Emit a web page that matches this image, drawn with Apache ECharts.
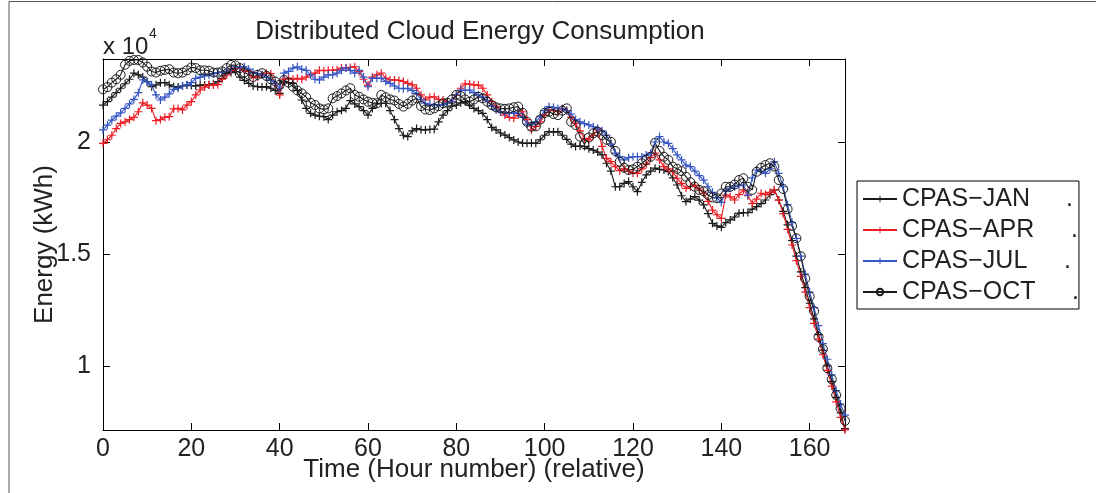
<!DOCTYPE html>
<html>
<head>
<meta charset="utf-8">
<script src="https://cdn.jsdelivr.net/npm/echarts@6/dist/echarts.min.js"></script>
<style>
html, body { margin: 0; padding: 0; background: #fff; }
#chart { width: 1096px; height: 493px; }
</style>
</head>
<body>
<div id="chart"></div>
<script>
// hourly energy, units of 10^4 kWh, hour 0 .. 168
const seriesNames = ["CPAS−JAN", "CPAS−APR", "CPAS−JUL", "CPAS−OCT"];

const janEnergy = [
  2.165, 2.18, 2.20, 2.22, 2.24, 2.26, 2.28, 2.307, 2.30, 2.29,
  2.27, 2.247, 2.255, 2.265, 2.265, 2.255, 2.247, 2.245, 2.25, 2.254,
  2.252, 2.25, 2.254, 2.254, 2.256, 2.26, 2.27, 2.284, 2.305, 2.31,
  2.314, 2.29, 2.275, 2.262, 2.25, 2.247, 2.245, 2.247, 2.24, 2.23,
  2.217, 2.27, 2.265, 2.262, 2.23, 2.1875, 2.15, 2.128, 2.12, 2.115,
  2.113, 2.10, 2.12, 2.135, 2.14, 2.15, 2.185, 2.17, 2.158, 2.14,
  2.12, 2.15, 2.17, 2.172, 2.173, 2.14, 2.10, 2.06, 2.03, 2.024,
  2.05, 2.06, 2.055, 2.054, 2.056, 2.057, 2.09, 2.12, 2.14, 2.16,
  2.165, 2.175, 2.18, 2.165, 2.15, 2.14, 2.128, 2.10, 2.065, 2.054,
  2.04, 2.031, 2.02, 2.009, 2.0, 1.995, 1.994, 1.995, 1.994, 2.01,
  2.03, 2.046, 2.045, 2.046, 2.03, 2.012, 1.99, 1.98, 1.982, 1.98,
  1.97, 1.964, 1.955, 1.942, 1.905, 1.87, 1.80, 1.80, 1.815, 1.823,
  1.80, 1.778, 1.82, 1.853, 1.87, 1.883, 1.878, 1.875, 1.868, 1.84,
  1.808, 1.76, 1.734, 1.745, 1.756, 1.74, 1.719, 1.68, 1.637, 1.625,
  1.619, 1.64, 1.652, 1.665, 1.682, 1.684, 1.685, 1.70, 1.711, 1.725,
  1.741, 1.765, 1.786, 1.741, 1.69, 1.63, 1.56, 1.49, 1.42, 1.35,
  1.28, 1.21, 1.14, 1.07, 1.00, 0.93, 0.86, 0.79, 0.72
];

const aprEnergy = [
  1.994, 2.01, 2.03, 2.06, 2.083, 2.09, 2.10, 2.11, 2.135, 2.175,
  2.165, 2.15, 2.095, 2.10, 2.11, 2.113, 2.148, 2.15, 2.143, 2.165,
  2.18, 2.21, 2.232, 2.245, 2.254, 2.254, 2.256, 2.28, 2.30, 2.32,
  2.33, 2.33, 2.32, 2.314, 2.29, 2.29, 2.30, 2.307, 2.305, 2.26,
  2.21, 2.28, 2.285, 2.28, 2.284, 2.28, 2.29, 2.30, 2.307, 2.32,
  2.318, 2.32, 2.32, 2.322, 2.33, 2.33, 2.333, 2.336, 2.314, 2.28,
  2.254, 2.29, 2.30, 2.307, 2.285, 2.277, 2.277, 2.275, 2.27, 2.262,
  2.255, 2.24, 2.21, 2.1875, 2.20, 2.202, 2.19, 2.1875, 2.18, 2.18,
  2.21, 2.24, 2.26, 2.258, 2.255, 2.254, 2.24, 2.21, 2.18, 2.158,
  2.135, 2.12, 2.11, 2.106, 2.12, 2.135, 2.10, 2.054, 2.07, 2.09,
  2.12, 2.143, 2.14, 2.135, 2.15, 2.14, 2.11, 2.083, 2.05, 2.016,
  2.009, 2.03, 2.054, 1.98, 1.927, 1.912, 1.89, 1.872, 1.88, 1.87,
  1.862, 1.86, 1.88, 1.90, 1.93, 1.95, 1.92, 1.89, 1.88, 1.867,
  1.838, 1.815, 1.793, 1.80, 1.808, 1.79, 1.771, 1.735, 1.696, 1.675,
  1.659, 1.763, 1.755, 1.741, 1.765, 1.786, 1.76, 1.725, 1.745, 1.771,
  1.765, 1.775, 1.786, 1.74, 1.68, 1.61, 1.54, 1.47, 1.40, 1.33,
  1.26, 1.19, 1.12, 1.05, 0.98, 0.91, 0.84, 0.77, 0.715
];

const julEnergy = [
  2.054, 2.075, 2.098, 2.115, 2.13, 2.15, 2.17, 2.19, 2.22, 2.277,
  2.268, 2.255, 2.21, 2.1875, 2.20, 2.215, 2.235, 2.24, 2.25, 2.255,
  2.265, 2.284, 2.29, 2.295, 2.30, 2.305, 2.31, 2.312, 2.315, 2.325,
  2.336, 2.334, 2.336, 2.325, 2.31, 2.305, 2.30, 2.29, 2.275, 2.26,
  2.24, 2.307, 2.315, 2.33, 2.336, 2.325, 2.32, 2.30, 2.28, 2.277,
  2.29, 2.30, 2.30, 2.307, 2.32, 2.33, 2.32, 2.307, 2.32, 2.29,
  2.247, 2.284, 2.285, 2.284, 2.27, 2.262, 2.25, 2.24, 2.238, 2.24,
  2.23, 2.217, 2.19, 2.173, 2.168, 2.165, 2.165, 2.167, 2.175, 2.18,
  2.21, 2.232, 2.23, 2.232, 2.22, 2.21, 2.20, 2.185, 2.16, 2.143,
  2.135, 2.13, 2.128, 2.13, 2.128, 2.11, 2.08, 2.076, 2.09, 2.113,
  2.14, 2.158, 2.155, 2.15, 2.148, 2.14, 2.125, 2.10, 2.09, 2.082,
  2.076, 2.068, 2.061, 2.05, 2.031, 1.99, 1.95, 1.935, 1.92, 1.93,
  1.934, 1.935, 1.934, 1.942, 1.95, 2.00, 2.024, 2.00, 1.994, 1.97,
  1.942, 1.92, 1.897, 1.89, 1.87, 1.85, 1.83, 1.80, 1.775, 1.75,
  1.73, 1.78, 1.793, 1.80, 1.805, 1.808, 1.763, 1.84, 1.875, 1.87,
  1.86, 1.88, 1.912, 1.86, 1.80, 1.72, 1.64, 1.57, 1.49, 1.41,
  1.33, 1.26, 1.18, 1.10, 1.03, 0.96, 0.89, 0.83, 0.78
];

const octEnergy = [
  2.235, 2.245, 2.265, 2.28, 2.30, 2.345, 2.362, 2.366, 2.366, 2.355,
  2.336, 2.315, 2.31, 2.318, 2.322, 2.325, 2.31, 2.307, 2.31, 2.32,
  2.333, 2.33, 2.32, 2.32, 2.318, 2.31, 2.31, 2.315, 2.33, 2.344,
  2.342, 2.33, 2.31, 2.30, 2.29, 2.30, 2.307, 2.295, 2.28, 2.27,
  2.255, 2.277, 2.265, 2.247, 2.23, 2.217, 2.20, 2.175, 2.165, 2.15,
  2.145, 2.15, 2.195, 2.205, 2.217, 2.23, 2.24, 2.21, 2.202, 2.19,
  2.18, 2.175, 2.173, 2.21, 2.20, 2.19, 2.185, 2.17, 2.158, 2.17,
  2.185, 2.195, 2.16, 2.145, 2.143, 2.15, 2.16, 2.173, 2.175, 2.19,
  2.21, 2.205, 2.19, 2.18, 2.19, 2.202, 2.195, 2.18, 2.165, 2.155,
  2.15, 2.148, 2.15, 2.155, 2.158, 2.13, 2.09, 2.068, 2.07, 2.10,
  2.13, 2.135, 2.125, 2.12, 2.14, 2.15, 2.09, 2.076, 2.024, 1.99,
  2.02, 2.039, 2.046, 2.03, 2.01, 2.001, 1.96, 1.912, 1.885, 1.875,
  1.878, 1.89, 1.905, 1.92, 1.934, 1.997, 1.96, 1.934, 1.92, 1.89,
  1.88, 1.87, 1.845, 1.82, 1.80, 1.786, 1.78, 1.763, 1.752, 1.749,
  1.77, 1.80, 1.80, 1.81, 1.83, 1.838, 1.80, 1.786, 1.867, 1.885,
  1.897, 1.905, 1.89, 1.83, 1.79, 1.70, 1.625, 1.57, 1.49, 1.39,
  1.31, 1.245, 1.13, 1.075, 0.99, 0.94, 0.87, 0.81, 0.755
];

const xTicks = [0, 20, 40, 60, 80, 100, 120, 140, 160];
const yTicks = [1, 1.5, 2];

const font = "'Liberation Sans', Arial, Helvetica, sans-serif";
const plusMark = "path://M3.4,0h1.2v8h-1.2z M0,3.4h8v1.2h-8z";

const chart = echarts.init(document.getElementById("chart"));

// pairs [hour, value]
const toPoints = arr => arr.map((v, h) => [h, v]);

function plusSeries(name, data, color) {
  return {
    name: name,
    type: "line",
    data: toPoints(data),
    symbol: plusMark,
    symbolSize: 8,
    lineStyle: { color: color, width: 1.1 },
    itemStyle: { color: color, borderWidth: 0 },
    emphasis: { disabled: true }
  };
}

// legend dots sit at slightly different places on each row
const dotKey = { "CPAS−JAN": "j", "CPAS−APR": "a", "CPAS−JUL": "u", "CPAS−OCT": "o" };
const richName = w => ({ width: w, fontSize: 25, fontFamily: font, color: "#222" });

const boxAxis = {
  axisLine: { show: true, onZero: false, lineStyle: { color: "#000", width: 1 } },
  axisTick: { show: true, inside: true, length: 7, lineStyle: { color: "#000" } },
  splitLine: { show: false }
};

const option = {
  animation: false,
  backgroundColor: "#fff",
  title: {
    text: "Distributed Cloud Energy Consumption",
    left: 475,
    top: 14,
    textAlign: "center",
    textStyle: { fontSize: 26, fontWeight: "normal", color: "#222", fontFamily: font }
  },
  grid: { left: 103, right: 251, top: 59, bottom: 63, containLabel: false, outerBoundsMode: "none" },
  legend: {
    orient: "vertical",
    left: 857,
    top: 181,
    padding: [5, 0, 4, 5],
    itemGap: 5,
    itemWidth: 34,
    itemHeight: 8,
    borderColor: "#000",
    borderWidth: 1,
    backgroundColor: "#fff",
    selectedMode: false,
    data: seriesNames,
    formatter: name => "{" + dotKey[name] + "|" + name + "}{d|.}",
    textStyle: {
      fontSize: 25,
      fontFamily: font,
      color: "#222",
      lineHeight: 26,
      rich: {
        j: richName(164),
        a: richName(169),
        u: richName(162),
        o: richName(170),
        d: { fontSize: 25, fontFamily: font, color: "#222" }
      }
    }
  },
  xAxis: [
    Object.assign({}, boxAxis, {
      type: "value",
      min: 0,
      max: 168,
      position: "bottom",
      axisTick: Object.assign({}, boxAxis.axisTick, { customValues: xTicks }),
      axisLabel: { customValues: xTicks, color: "#222", fontSize: 25, fontFamily: font, margin: 7 },
      name: "Time (Hour number) (relative)",
      nameLocation: "middle",
      nameGap: 40,
      nameMoveOverlap: false,
      nameTextStyle: { fontSize: 26, color: "#222", fontFamily: font, verticalAlign: "middle" }
    }),
    Object.assign({}, boxAxis, {
      type: "value",
      min: 0,
      max: 168,
      position: "top",
      axisTick: Object.assign({}, boxAxis.axisTick, { customValues: xTicks }),
      axisLabel: { show: false }
    })
  ],
  yAxis: [
    Object.assign({}, boxAxis, {
      type: "value",
      min: 0.714,
      max: 2.3705,
      position: "left",
      axisTick: Object.assign({}, boxAxis.axisTick, { customValues: yTicks }),
      axisLabel: { customValues: yTicks, color: "#222", fontSize: 25, fontFamily: font, margin: 12 },
      name: "Energy (kWh)",
      nameLocation: "middle",
      nameGap: 58,
      nameRotate: 90,
      nameMoveOverlap: false,
      nameTextStyle: { fontSize: 26, color: "#222", fontFamily: font, verticalAlign: "middle" }
    }),
    Object.assign({}, boxAxis, {
      type: "value",
      min: 0.714,
      max: 2.3705,
      position: "right",
      axisTick: Object.assign({}, boxAxis.axisTick, { customValues: yTicks }),
      axisLabel: { show: false }
    })
  ],
  graphic: [
    {
      type: "polyline",
      silent: true,
      shape: { points: [[9, 493], [9, 1.5], [1096, 1.5]] },
      style: { stroke: "#555", lineWidth: 1, fill: null }
    },
    {
      type: "text",
      silent: true,
      style: { x: 103, y: 47.5, text: "x 10", font: "24px " + font, fill: "#222",
               textAlign: "left", textVerticalAlign: "middle", align: "left", verticalAlign: "middle" }
    },
    {
      type: "text",
      silent: true,
      style: { x: 149, y: 34.5, text: "4", font: "14px " + font, fill: "#222",
               textAlign: "left", textVerticalAlign: "middle", align: "left", verticalAlign: "middle" }
    }
  ],
  series: [
    plusSeries(seriesNames[0], janEnergy, "#1a1a1a"),
    plusSeries(seriesNames[1], aprEnergy, "#ee1c24"),
    plusSeries(seriesNames[2], julEnergy, "#3656c4"),
    {
      name: seriesNames[3],
      type: "line",
      data: toPoints(octEnergy),
      symbol: "circle",
      symbolSize: 9,
      lineStyle: { color: "#1a1a1a", width: 1.1 },
      itemStyle: { color: "rgba(255,255,255,0)", borderColor: "#1a1a1a", borderWidth: 1 },
      emphasis: { disabled: true }
    }
  ]
};

chart.setOption(option);
</script>
</body>
</html>
